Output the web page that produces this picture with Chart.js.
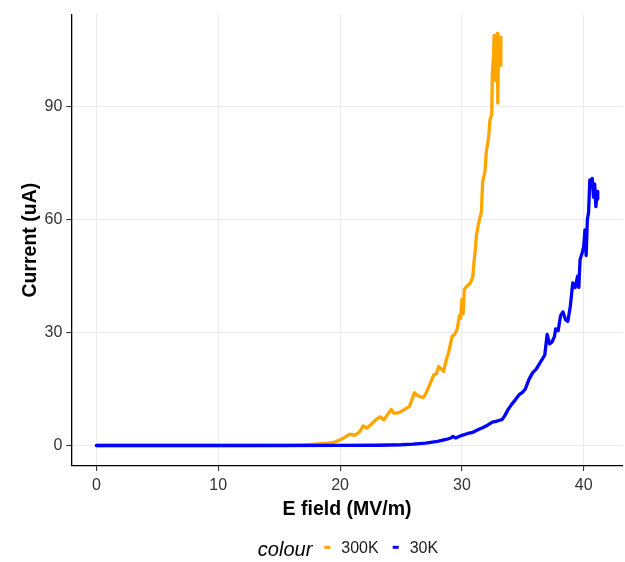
<!DOCTYPE html>
<html>
<head>
<meta charset="utf-8">
<title>Current vs E field</title>
<script src="https://cdn.jsdelivr.net/npm/chart.js@4.4.1/dist/chart.umd.min.js"></script>
<style>
  html, body { margin: 0; padding: 0; background: #fff; }
  canvas { display: block; }
</style>
</head>
<body>
<canvas id="iv-chart" width="625" height="562"></canvas>
<script>
// sweep at 300K: field (MV/m) and measured current (uA)
const fieldHot = [0, 5, 10, 15, 17, 18, 19, 19.6, 20, 20.4,
  20.8, 21.2, 21.6, 21.9, 22.2, 22.6, 23.0, 23.3, 23.6, 23.9,
  24.2, 24.4, 24.8, 25.1, 25.4, 25.7, 26.1, 26.4, 26.8, 27.0,
  27.3, 27.7, 27.9, 28.1, 28.5, 28.7, 28.9, 29.2, 29.4, 29.6,
  29.8, 29.9, 30.0, 30.1, 30.2, 30.4, 30.7, 30.9, 31.0, 31.1,
  31.2, 31.4, 31.6, 31.7, 31.9, 32.0, 32.2, 32.3, 32.45, 32.5,
  32.6, 32.65, 32.75, 32.8, 32.9, 32.95, 33.0, 33.1, 33.15, 33.2];
const currentHot = [0, 0, 0, 0.05, 0.15, 0.35, 0.6, 0.9, 1.5, 2.2,
  3.0, 2.7, 3.6, 5.2, 4.6, 5.8, 7.0, 7.6, 6.8, 8.2,
  9.6, 8.6, 8.7, 9.2, 9.8, 10.4, 14.0, 13.2, 12.7, 13.5,
  15.7, 18.8, 19.0, 21.0, 19.7, 22.5, 24.6, 29.0, 29.5, 30.8,
  34.5, 33.9, 38.8, 35.0, 41.5, 42.3, 43.2, 44.9, 49.0, 52.0,
  56.0, 59.5, 62.0, 70.0, 73.0, 78.0, 82.0, 86.5, 88.0, 99.0,
  104.0, 109.0, 97.0, 108.0, 109.5, 91.0, 106.0, 104.0, 108.5, 101.0];

// sweep at 30K
const fieldCold = [0, 5, 10, 15, 20, 23, 25, 26, 27, 28,
  28.7, 29.1, 29.25, 29.5, 30.0, 30.5, 30.9, 31.4, 31.7, 32.1,
  32.5, 32.8, 33.3, 33.5, 33.8, 34.1, 34.4, 34.7, 35.0, 35.2,
  35.5, 35.8, 36.1, 36.5, 36.8, 37.0, 37.2, 37.4, 37.6, 37.7,
  37.9, 38.1, 38.3, 38.5, 38.7, 38.9, 39.1, 39.3, 39.5, 39.6,
  39.7, 39.9, 40.0, 40.1, 40.2, 40.3, 40.4, 40.5, 40.6, 40.7,
  40.8, 40.9, 41.0, 41.1, 41.15];
const currentCold = [0, 0, 0, 0, 0.02, 0.06, 0.2, 0.35, 0.65, 1.1,
  1.6, 2.0, 2.4, 2.0, 2.7, 3.2, 3.5, 4.3, 4.7, 5.4,
  6.2, 6.4, 6.9, 7.8, 9.6, 11.0, 12.2, 13.5, 14.2, 15.0,
  17.5, 19.3, 20.3, 22.4, 24.0, 29.5, 27.0, 27.5, 29.0, 31.0,
  30.5, 34.5, 35.5, 33.5, 33.0, 37.0, 43.2, 42.0, 45.0, 42.0,
  49.4, 51.5, 53.0, 57.3, 50.5, 60.0, 62.0, 70.6, 69.0, 71.0,
  66.0, 69.5, 63.5, 67.5, 65.5];

const seriesNames = ["300K", "30K"];
const xTickValues = [0, 10, 20, 30, 40];
const yTickValues = [0, 30, 60, 90];

const FONT = "'Liberation Sans', Arial, Helvetica, sans-serif";

function toPoints(xs, ys) {
  return xs.map((x, i) => ({ x, y: ys[i] }));
}

// ggplot-style key: italic title followed by short coloured segments on one row
const inlineLegend = {
  id: "inlineLegend",
  afterDraw(chart) {
    const { ctx, chartArea } = chart;
    const sets = chart.data.datasets;
    ctx.save();
    ctx.font = `italic 20px ${FONT}`;
    const titleW = ctx.measureText("colour").width;
    ctx.font = `16px ${FONT}`;
    const labelW = sets.map((d) => ctx.measureText(d.label).width);
    const keyW = 6;
    const gapBefore = [12, 14];
    const gapAfter = 11;
    let total = titleW;
    sets.forEach((d, i) => { total += gapBefore[i] + keyW + gapAfter + labelW[i]; });
    let x = (chartArea.left + chartArea.right) / 2 + 1 - total / 2;

    ctx.textBaseline = "alphabetic";
    ctx.textAlign = "left";
    ctx.fillStyle = "#000";
    ctx.font = `italic 20px ${FONT}`;
    ctx.fillText("colour", x, 556);
    x += titleW;

    ctx.font = `16px ${FONT}`;
    sets.forEach((d, i) => {
      x += gapBefore[i];
      ctx.fillStyle = d.borderColor;
      ctx.fillRect(x, 545.8, keyW, 3);
      x += keyW + gapAfter;
      ctx.fillStyle = "#1a1a1a";
      ctx.fillText(d.label, x, 553);
      x += labelW[i];
    });
    ctx.restore();
  },
};

const lineStyle = {
  borderWidth: 3.3,
  pointRadius: 0,
  tension: 0,
  borderJoinStyle: "round",
  borderCapStyle: "round",
};

new Chart(document.getElementById("iv-chart"), {
  type: "line",
  data: {
    datasets: [
      { ...lineStyle, label: seriesNames[0], data: toPoints(fieldHot, currentHot), borderColor: "#FFA500", order: 1 },
      { ...lineStyle, label: seriesNames[1], data: toPoints(fieldCold, currentCold), borderColor: "#0000FF", order: 0 },
    ],
  },
  options: {
    responsive: false,
    animation: false,
    layout: { padding: { left: 0, top: 14.3, right: 2.3, bottom: 0 } },
    plugins: {
      legend: { display: false },
      tooltip: { enabled: false },
    },
    scales: {
      x: {
        type: "linear",
        min: -2.06,
        max: 43.2,
        afterBuildTicks: (s) => { s.ticks = xTickValues.map((v) => ({ value: v })); },
        afterFit: (s) => { s.height = 96; },
        grid: { color: "#ebebeb", lineWidth: 1.1, tickColor: "#333", tickLength: 5 },
        border: { color: "#000", width: 1.3 },
        ticks: { color: "#333", font: { family: FONT, size: 16 }, padding: 5, maxRotation: 0, callback: (v) => String(v) },
        title: {
          display: true,
          text: "E field (MV/m)",
          color: "#000",
          font: { family: FONT, size: 19.5, weight: "bold" },
          padding: { top: 0, bottom: 41 },
        },
      },
      y: {
        type: "linear",
        min: -5.45,
        max: 114.6,
        afterBuildTicks: (s) => { s.ticks = yTickValues.map((v) => ({ value: v })); },
        afterFit: (s) => { s.width = 71.3; },
        grid: { color: "#ebebeb", lineWidth: 1.1, tickColor: "#333", tickLength: 5 },
        border: { color: "#000", width: 1.3 },
        ticks: { color: "#333", font: { family: FONT, size: 16 }, padding: 4, callback: (v) => String(v) },
        title: {
          display: true,
          text: "Current (uA)",
          color: "#000",
          font: { family: FONT, size: 19.5, weight: "bold" },
          padding: { top: 19, bottom: 0 },
        },
      },
    },
  },
  plugins: [inlineLegend],
});
</script>
</body>
</html>
